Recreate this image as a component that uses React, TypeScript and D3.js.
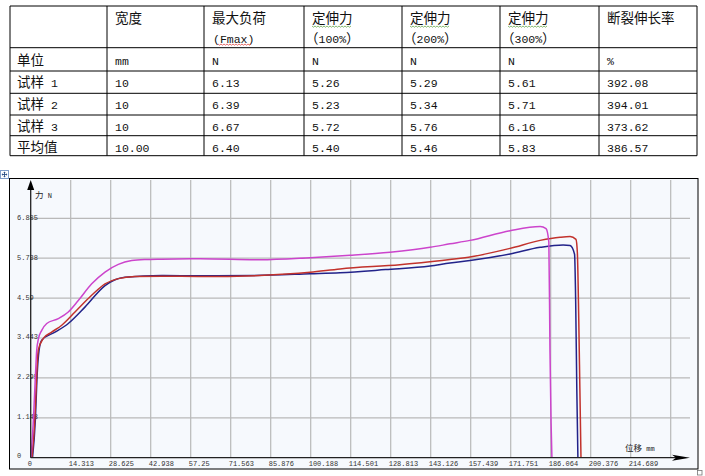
import React from 'react';
import * as d3 from 'd3';

// table contents
const headerTop = ['', '宽度', '最大负荷', '定伸力', '定伸力', '定伸力', '断裂伸长率'];
const headerSub = ['', '', '(Fmax)', '（100%）', '（200%）', '（300%）', ''];
const unitRow = ['单位', 'mm', 'N', 'N', 'N', 'N', '%'];
const sampleNames = ['试样 1', '试样 2', '试样 3', '平均值'];
const widthCol = ['10', '10', '10', '10.00'];
const fmaxCol = ['6.13', '6.39', '6.67', '6.40'];
const f100Col = ['5.26', '5.23', '5.72', '5.40'];
const f200Col = ['5.29', '5.34', '5.76', '5.46'];
const f300Col = ['5.61', '5.71', '6.16', '5.83'];
const breakCol = ['392.08', '394.01', '373.62', '386.57'];

// chart axes
const yTicks = [0, 1.148, 2.295, 3.443, 4.59, 5.738, 6.885];
const yTickLabels = ['0', '1.148', '2.295', '3.443', '4.59', '5.738', '6.885'];
const xTicks = [14.313, 28.625, 42.938, 57.25, 71.563, 85.876, 100.188, 114.501, 128.813, 143.126, 157.439, 171.751, 186.064, 200.376, 214.689];
const xGridExtra = [229.002];

// curves: [displacement mm, force N]
const sample1: [number, number][] = [
  [0.65, 0], [1.7, 1.14], [2.25, 2.29], [3.0, 3.09], [3.94, 3.38], [8.7, 3.61], [13.45, 3.86],
  [19.4, 4.33], [26.6, 4.95], [33.7, 5.19], [46.9, 5.24], [60.6, 5.23], [80, 5.24], [100, 5.29],
  [110.7, 5.32], [127, 5.41], [142.9, 5.51], [150, 5.6], [157.2, 5.67], [171.5, 5.86], [182.3, 6.05],
  [190.5, 6.12], [193, 6.1], [194.6, 5.85], [195.0, 4.5], [195.4, 2.0], [195.8, 0],
];
const sample2: [number, number][] = [
  [0.45, 0], [1.5, 1.14], [2.1, 2.29], [2.7, 3.09], [4.5, 3.43], [7.5, 3.61], [11.1, 3.81],
  [15.85, 4.19], [21.8, 4.67], [26.6, 5.0], [31.35, 5.15], [37.3, 5.21], [46.9, 5.22], [60.6, 5.21],
  [82, 5.24], [100, 5.33], [110.7, 5.43], [132.1, 5.55], [150, 5.7], [155.4, 5.75], [171.5, 6.02],
  [182.3, 6.25], [189.4, 6.34], [193, 6.36], [195.1, 6.28], [195.6, 5.9], [196.1, 4.0], [196.5, 2.0], [196.9, 0],
];
const sample3: [number, number][] = [
  [0.1, 0], [1.0, 1.14], [1.65, 2.29], [2.15, 3.09], [2.8, 3.43], [3.94, 3.66], [5.73, 3.86],
  [9.88, 4.0], [13.45, 4.19], [17.03, 4.52], [21.83, 5.0], [26.59, 5.34], [31.35, 5.56], [36.14, 5.67],
  [40.9, 5.7], [46.88, 5.71], [60.58, 5.72], [82.05, 5.69], [100, 5.75], [114.3, 5.82], [128.6, 5.91],
  [142.9, 6.05], [150, 6.15], [157.2, 6.25], [171.5, 6.53], [182.3, 6.65], [184.4, 6.59], [185.4, 6.2],
  [185.8, 3.1], [186.2, 1.0], [186.5, 0],
];
const curves = [
  { name: '试样 1', color: '#22238a', data: sample1 },
  { name: '试样 2', color: '#c2322c', data: sample2 },
  { name: '试样 3', color: '#cc44cc', data: sample3 },
];

const colX = [10, 107, 204, 304, 402, 500, 599, 697];
const rowY = [6, 47.7, 71, 93.3, 115, 135.7, 155.7];

const cjk = '"Noto Sans CJK SC", sans-serif';
const mono = '"Liberation Mono", "DejaVu Sans Mono", monospace';

// little wavy spell-check underline
const wavy = (x0: number, x1: number, y: number) => {
  let p = `M${x0},${y}`;
  for (let x = x0, i = 0; x < x1; x += 1.5, i++) p += `L${x + 1.5},${y + (i % 2 === 0 ? 1.2 : 0)}`;
  return p;
};

const Cell = ({ x, y, text }: { x: number; y: number; text: string }) => {
  // Chinese via CJK font, latin/digits via mono font
  const parts = text.split(/([\u4e00-\u9fff\uff08\uff09]+)/).filter((s) => s.length);
  return (
    <text x={x} y={y} fill="#111">
      {parts.map((s, i) =>
        /[\u4e00-\u9fff\uff08\uff09]/.test(s) ? (
          <tspan key={i} fontFamily={cjk} fontSize={13.5}>{s}</tspan>
        ) : (
          <tspan key={i} fontFamily={mono} fontSize={11.5}>{s}</tspan>
        )
      )}
    </text>
  );
};

const App = () => {
  const x = d3.scaleLinear().domain([0, 229.002]).range([30.7, 670.7]);
  const y = d3.scaleLinear().domain([0, 6.885]).range([457.7, 218.3]);
  const line = d3.line<[number, number]>()
    .x((d) => x(d[0]))
    .y((d) => y(d[1]))
    .curve(d3.curveMonotoneX);

  const dataRows = sampleNames.map((n, i) => [n, widthCol[i], fmaxCol[i], f100Col[i], f200Col[i], f300Col[i], breakCol[i]]);
  const rowBase = [65, 87, 109, 131, 152];
  const axisY = y(0);
  const axisX = x(0);

  return (
    <div style={{ position: 'absolute', left: 0, top: 0 }}>
      <svg width={705} height={476} style={{ display: 'block', background: '#fff' }}>
        {/* table */}
        <g>
          {rowY.map((ry, i) => (
            <line key={'r' + i} x1={colX[0]} x2={colX[colX.length - 1]} y1={ry} y2={ry} stroke="#000" strokeWidth={1} />
          ))}
          {colX.map((cx, i) => (
            <line key={'c' + i} x1={cx} x2={cx} y1={rowY[0]} y2={rowY[rowY.length - 1]} stroke="#000" strokeWidth={1} />
          ))}
          {headerTop.map((t, i) => (t ? <Cell key={'h' + i} x={colX[i] + 8} y={23} text={t} /> : null))}
          {headerSub.map((t, i) =>
            t ? <Cell key={'s' + i} x={t.startsWith('（') ? colX[i] + 1 : colX[i] + 9} y={43} text={t} /> : null
          )}
          {[3, 4, 5].map((i) => (
            <path key={'w' + i} d={wavy(colX[i] + 8, colX[i] + 47, 26)} fill="none" stroke="#6aa84f" strokeWidth={0.8} />
          ))}
          <path d={wavy(218, 251, 44)} fill="none" stroke="#e04848" strokeWidth={0.8} />
          {unitRow.map((t, i) => (
            <Cell key={'u' + i} x={colX[i] + (i === 0 ? 7 : 8)} y={rowBase[0]} text={t} />
          ))}
          {dataRows.map((row, r) =>
            row.map((t, i) => <Cell key={`d${r}-${i}`} x={colX[i] + (i === 0 ? 7 : 8)} y={rowBase[r + 1]} text={t} />)
          )}
        </g>

        {/* table anchor icon */}
        <g>
          <rect x={0.5} y={170.5} width={8} height={8} fill="#fff" stroke="#7f9dc9" strokeWidth={1} />
          <path d="M4.5,172 V177 M2,174.5 H7" stroke="#2b4f86" strokeWidth={0.9} />
          <path d="M4.5,171.6 L3.3,173 H5.7 Z M4.5,177.4 L3.3,176 H5.7 Z M1.6,174.5 L3,173.3 V175.7 Z M7.4,174.5 L6,173.3 V175.7 Z" fill="#2b4f86" />
        </g>

        {/* chart frame */}
        <rect x={9.5} y={178.5} width={688.5} height={290.5} fill="#f6f9fd" stroke="#000" strokeWidth={1} />
        <rect x={697.5} y={470.5} width={4.5} height={4.5} fill="#fff" stroke="#777" strokeWidth={0.8} />

        {/* grid */}
        <g stroke="#b9b9b9" strokeWidth={1.2}>
          {yTicks.slice(1).map((v) => (
            <line key={'gy' + v} x1={axisX} x2={690} y1={y(v)} y2={y(v)} />
          ))}
          {[...xTicks, ...xGridExtra].map((v) => (
            <line key={'gx' + v} x1={x(v)} x2={x(v)} y1={180} y2={axisY} />
          ))}
        </g>

        {/* y labels */}
        <g fontFamily={mono} fontSize={7} fill="#333">
          {yTicks.map((v, i) => (
            <text key={'yl' + v} x={17} y={v === 0 ? axisY : y(v) + 1.5}>{yTickLabels[i]}</text>
          ))}
          <text x={axisX - 3} y={466}>0</text>
          {xTicks.map((v) => (
            <text key={'xl' + v} x={x(v) - 2} y={466}>{v.toString().replace(/^(\d+\.\d*?)$/, '$1')}</text>
          ))}
        </g>

        {/* curves */}
        <g fill="none" strokeWidth={1.5} strokeLinejoin="round">
          {curves.map((c) => (
            <path key={c.name} d={line(c.data) || ''} stroke={c.color} />
          ))}
        </g>

        {/* axes */}
        <line x1={axisX} x2={axisX} y1={186} y2={axisY} stroke="#222" strokeWidth={1.3} />
        <path d={`M${axisX},180 L${axisX - 3.5},190 L${axisX + 3.5},190 Z`} fill="#000" />
        <line x1={axisX} x2={676} y1={axisY} y2={axisY} stroke="#222" strokeWidth={1.3} />
        <path d={`M690,${axisY} L672,${axisY - 3} L676,${axisY} L672,${axisY + 3} Z`} fill="#000" />

        <text x={35} y={197.5} fill="#222">
          <tspan fontFamily={cjk} fontSize={8.5}>力</tspan>
          <tspan fontFamily={mono} fontSize={7}> N</tspan>
        </text>
        <text x={625} y={451} fill="#222">
          <tspan fontFamily={cjk} fontSize={8.5}>位移</tspan>
          <tspan fontFamily={mono} fontSize={7}> mm</tspan>
        </text>
      </svg>
    </div>
  );
};

export default App;
